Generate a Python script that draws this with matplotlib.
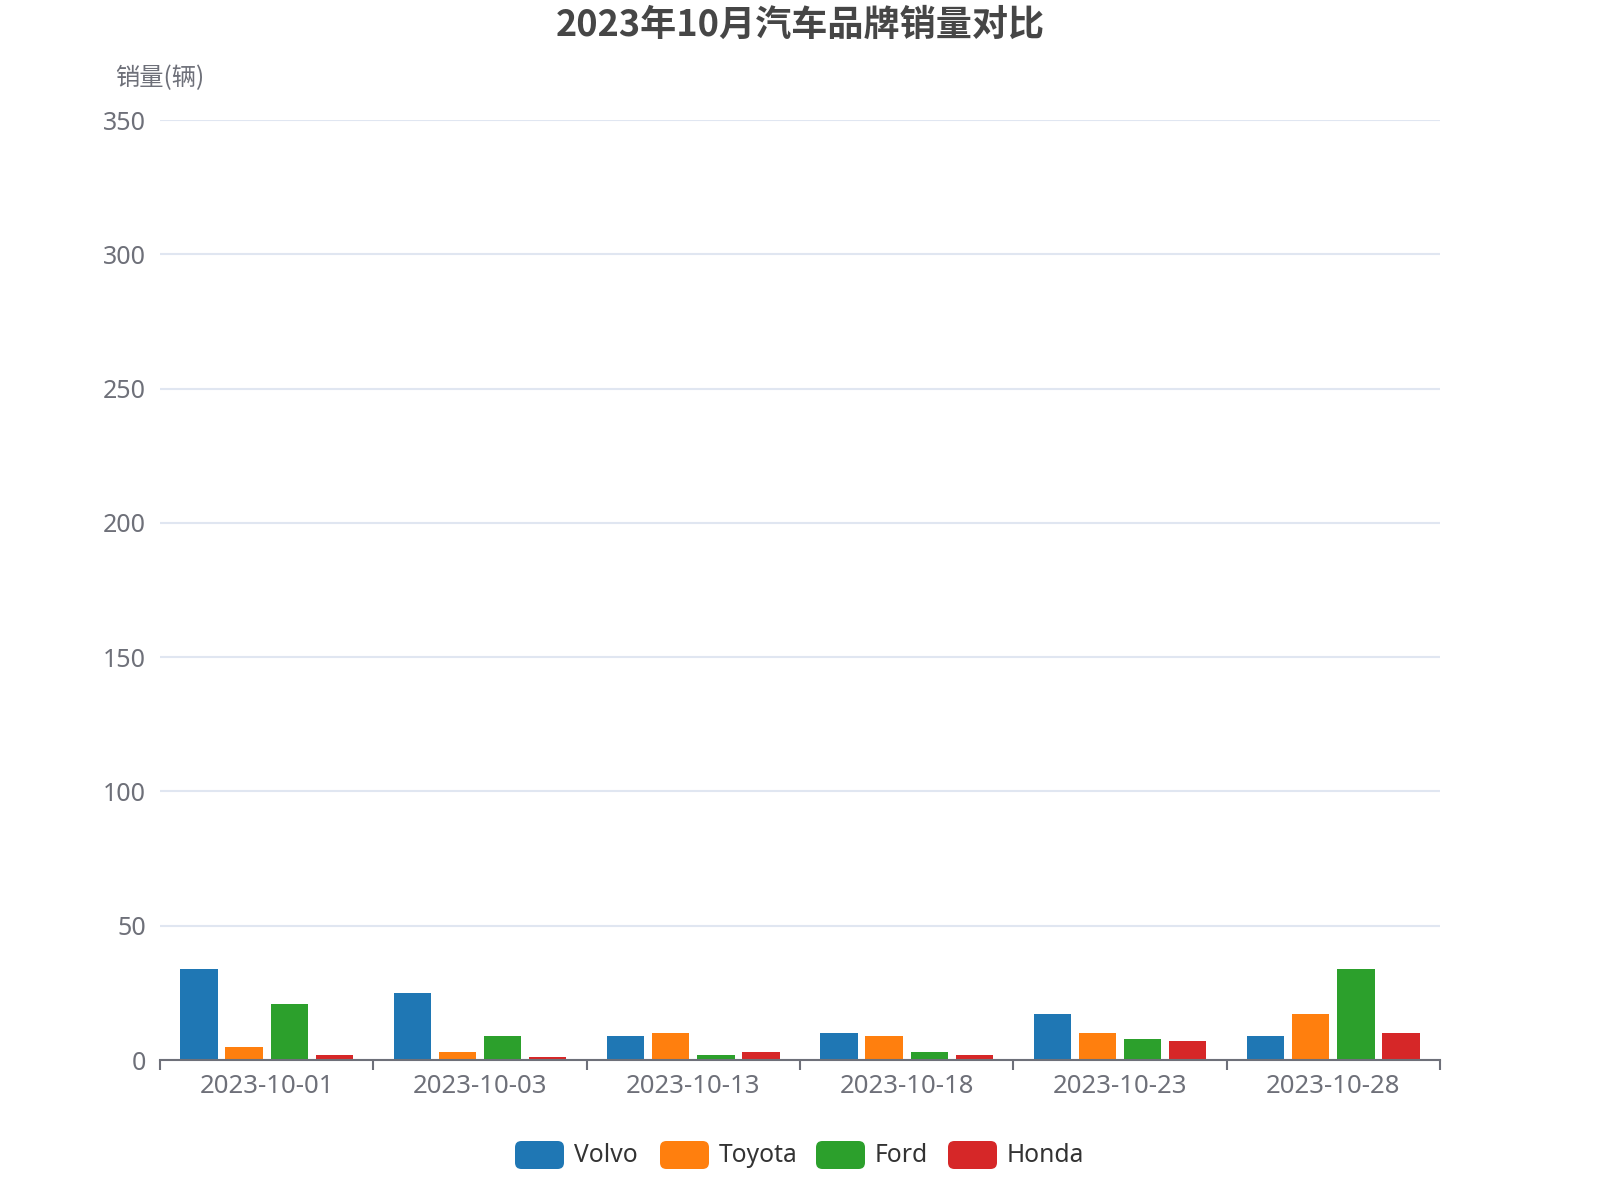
import matplotlib
matplotlib.use("Agg")
import matplotlib.pyplot as plt
from matplotlib.patches import FancyBboxPatch
import numpy as np

plt.rcParams['font.family'] = ['Noto Sans', 'Noto Sans CJK SC', 'DejaVu Sans']

dates = ["2023-10-01", "2023-10-03", "2023-10-13", "2023-10-18", "2023-10-23", "2023-10-28"]
brands = ["Volvo", "Toyota", "Ford", "Honda"]
volvo = [34, 25, 9, 10, 17, 9]
toyota = [5, 3, 10, 9, 10, 17]
ford = [21, 9, 2, 3, 8, 34]
honda = [2, 1, 3, 2, 7, 10]
colors = ["#1f77b4", "#ff7f0e", "#2ca02c", "#d62728"]
yticks = [0, 50, 100, 150, 200, 250, 300, 350]
title = "2023年10月汽车品牌销量对比"
yname = "销量(辆)"

series = [volvo, toyota, ford, honda]

fig = plt.figure(figsize=(16, 12), dpi=100)
ax = fig.add_axes([0.1, 1 - 1060 / 1200, 0.8, (1060 - 120) / 1200])

x = np.arange(len(dates))
bw = 0.175
step = 0.211
for i, (vals, c) in enumerate(zip(series, colors)):
    ax.bar(x + (i - 1.5) * step, vals, width=bw, color=c, zorder=3, linewidth=0)

ax.set_xlim(-0.5, len(dates) - 0.5)
ax.set_ylim(0, 350)
ax.set_yticks(yticks)
ax.set_yticklabels([str(t) for t in yticks], fontsize=18, color="#6E7079")
ax.tick_params(axis='y', length=0, pad=10)
ax.yaxis.grid(True, color="#E0E6F1", linewidth=1.5, zorder=0)
ax.set_axisbelow(True)

ax.set_xticks(np.arange(-0.5, len(dates), 1.0))
ax.set_xticklabels([])
ax.tick_params(axis='x', which='major', length=7, width=1.5, color="#6E7079", direction='out')
ax.set_xticks(x, minor=True)
ax.set_xticklabels(dates, minor=True, fontsize=18.5, color="#6E7079")
ax.tick_params(axis='x', which='minor', length=0, pad=10)

for s in ['top', 'right', 'left']:
    ax.spines[s].set_visible(False)
ax.spines['bottom'].set_color("#6E7079")
ax.spines['bottom'].set_linewidth(1.5)
ax.spines['bottom'].set_zorder(4)

fig.text(0.5, 1 - 25 / 1200, title, ha='center', va='center', fontsize=26,
         fontweight='bold', color="#464646", family=['Noto Sans CJK SC', 'DejaVu Sans'])
fig.text(0.1, 1 - 78 / 1200, yname, ha='center', va='center', fontsize=17.5,
         color="#6E7079", family=['Noto Sans CJK SC', 'DejaVu Sans'])

# legend
box_x = [515, 660, 816, 948]
W, H = 1600, 1200
cy = 1155
for bx, name, c in zip(box_x, brands, colors):
    p = FancyBboxPatch((bx / W, (H - cy - 14) / H), 49 / W, 28 / H,
                       boxstyle="round,pad=0,rounding_size=0.004",
                       transform=fig.transFigure, facecolor=c, edgecolor='none',
                       mutation_aspect=W / H)
    fig.patches.append(p)
    fig.text((bx + 59) / W, (H - cy) / H, name, ha='left', va='center',
             fontsize=17.7, color="#333333")

fig.savefig("out.png", dpi=100, facecolor='white')
